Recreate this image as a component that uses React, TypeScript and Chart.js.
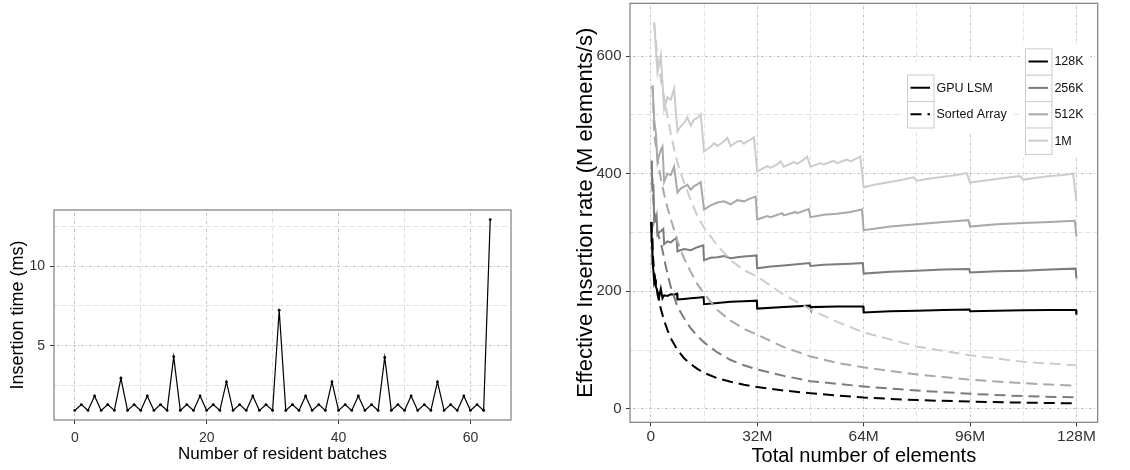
import React, { useEffect, useRef } from 'react';
import { Chart, registerables } from 'chart.js';

Chart.register(...registerables);

const FONT_FAMILY = '"Liberation Sans", Arial, Helvetica, sans-serif';
const MAJOR_GRID = '#bdbdbd';
const MINOR_GRID = '#e2e2e2';
const TICK_TEXT = '#333333';

// ---------------- Left panel: insertion time per batch ----------------
const insertionTimeMs = [
  0.94, 1.31, 0.94, 1.85, 0.94, 1.31, 0.94, 2.96,
  0.94, 1.31, 0.94, 1.85, 0.94, 1.31, 0.94, 4.31,
  0.94, 1.31, 0.94, 1.85, 0.94, 1.31, 0.94, 2.73,
  0.94, 1.31, 0.94, 1.85, 0.94, 1.31, 0.94, 7.23,
  0.94, 1.31, 0.94, 1.85, 0.94, 1.31, 0.94, 2.73,
  0.94, 1.31, 0.94, 1.85, 0.94, 1.31, 0.94, 4.27,
  0.94, 1.31, 0.94, 1.85, 0.94, 1.31, 0.94, 2.73,
  0.94, 1.31, 0.94, 1.85, 0.94, 1.31, 0.94, 12.92,
];
const batchXMajorTicks = [0, 20, 40, 60];
const batchXMinorTicks = [10, 30, 50];
const timeYMajorTicks = [5, 10];
const timeYMinorTicks = [2.5, 7.5, 12.5];

// ---------------- Right panel: [total elements (M), rate (M elements/s)] ----------------
const lsm128K: [number, number][] = [
  [0.125, 318], [0.25, 282], [0.375, 290], [0.5, 248], [0.75, 236], [1, 215], [1.25, 220], [1.5, 208],
  [2, 200], [2.5, 190], [3, 204], [3.5, 188], [4, 193], [5, 192], [6, 195], [7, 194], [7.875, 196],
  [8, 186], [10, 187], [12, 188], [14, 189], [15.875, 190], [16, 178], [20, 180], [24, 182], [28, 183],
  [31.875, 184], [32, 170.5], [40, 173], [47.875, 175.5], [48, 173], [56, 174], [63.875, 174],
  [64, 164], [72, 166], [80, 167], [88, 168], [95.875, 169], [96, 166], [104, 167], [112, 167.5],
  [120, 168], [127.875, 168], [128, 160],
];
const lsm256K: [number, number][] = [
  [0.25, 422], [0.5, 370], [0.75, 382], [1, 320], [1.25, 326], [1.5, 318], [1.75, 326], [2, 296],
  [2.5, 300], [3, 302], [3.75, 306], [4, 280], [5, 285], [6, 283], [7, 288], [7.75, 290], [8, 268],
  [10, 272], [12, 270], [14, 275], [15.75, 278], [16, 253], [18, 257], [20, 258], [22, 260], [24, 256],
  [26, 258], [28, 259], [30, 260], [31.75, 261], [32, 239], [36, 242], [40, 244], [44, 246],
  [47.75, 248], [48, 243], [52, 245], [56, 246], [60, 247], [63.75, 248], [64, 230], [72, 233],
  [80, 235], [88, 237], [95.75, 238], [96, 232], [104, 234], [112, 235], [120, 237], [127.75, 238.5],
  [128, 222],
];
const lsm512K: [number, number][] = [
  [0.5, 550], [1, 492], [1.5, 470], [2, 420], [2.5, 432], [3, 440], [3.5, 446], [4, 386], [5, 400],
  [6, 398], [7, 412], [8, 368], [9, 375], [10, 378], [11, 381], [12, 373], [13, 379], [14, 382],
  [15, 386], [16, 339], [18, 346], [20, 351], [22, 353], [24, 348], [26, 355], [28, 353], [30, 358],
  [31.5, 361], [32, 322], [35, 328], [36, 326], [39.5, 333], [40, 329], [43.5, 335], [44, 333],
  [47.5, 340], [48, 326], [52, 330], [56, 332], [60, 335], [63.5, 339], [64, 304], [72, 310],
  [80, 314], [88, 318], [95.5, 321], [96, 310], [104, 314], [112, 316], [120, 318], [127.5, 320],
  [128, 293],
];
const lsm1M: [number, number][] = [
  [1, 658], [2, 572], [3, 601], [4, 510], [5, 530], [6, 526], [7, 545], [8, 472], [9, 481], [10, 486],
  [11, 496], [12, 482], [13, 492], [14, 495], [15, 501], [16, 438], [17, 442], [18, 446], [19, 452],
  [20, 447], [21, 451], [22, 455], [23, 461], [24, 447], [25, 451], [26, 455], [27, 456], [28, 451],
  [29, 455], [30, 458], [31, 462], [32, 404], [34, 410], [35, 413], [36, 410], [38, 416], [39, 421],
  [40, 412], [42, 417], [43, 420], [44, 417], [46, 424], [47, 429], [48, 412], [50, 416], [51, 418],
  [52, 416], [54, 420], [55, 422], [56, 418], [58, 422], [59, 424], [60, 421], [62, 426], [63, 429],
  [64, 377], [68, 382], [72, 386], [76, 390], [79, 394], [80, 388], [84, 392], [88, 395], [92, 398],
  [95, 401], [96, 385], [100, 388], [104, 391], [108, 394], [111, 396], [112, 390], [116, 393],
  [120, 396], [124, 398], [127, 400], [128, 353],
];
const sorted128K: [number, number][] = [
  [0.125, 318], [0.5, 270], [1, 232], [2, 195], [3, 170], [4, 150], [5, 134], [6, 120], [8, 100],
  [10, 86], [12, 76], [14, 68], [16, 61], [20, 52], [24, 46], [28, 41], [32, 37], [40, 31], [48, 26.5],
  [64, 19], [80, 14.8], [96, 12.2], [112, 10.4], [128, 9.2],
];
const sorted256K: [number, number][] = [
  [0.25, 422], [0.5, 380], [1, 335], [2, 300], [3, 282], [3.5, 270], [4, 255], [5, 230], [6, 207],
  [8, 174], [10, 154], [12, 137], [14, 124], [16, 113], [20, 96], [24, 83], [28, 74], [32, 67],
  [40, 56], [48, 47], [64, 38], [80, 31], [96, 25.5], [112, 21.5], [128, 19.5],
];
const sorted512K: [number, number][] = [
  [0.5, 550], [1, 470], [2, 425], [3, 392], [4, 365], [5, 342], [6, 323], [8, 285], [10, 256],
  [12, 233], [14, 212], [16, 196], [20, 168], [24, 150], [28, 136], [32, 126], [40, 105], [48, 89],
  [56, 78], [64, 70.5], [80, 58.5], [96, 49.5], [112, 43.5], [128, 39],
];
const sorted1M: [number, number][] = [
  [1, 656], [2, 595], [3, 560], [4, 528], [5, 498], [6, 468], [7, 442], [8, 418], [10, 385],
  [12, 355], [14, 328], [16, 308], [20, 278], [24, 253], [28, 236], [32, 225], [40, 194], [48, 169],
  [56, 148], [64, 130], [80, 106], [96, 91], [112, 80], [128, 74],
];
const sizeXMajorTicks = [0, 32, 64, 96, 128];
const sizeXMinorTicks = [16, 48, 80, 112];
const rateYMajorTicks = [0, 200, 400, 600];
const rateYMinorTicks = [100, 300, 500];
const batchSizeLabels = ['128K', '256K', '512K', '1M'];
const batchSizeColors = ['#000000', '#7c7c7c', '#a9a9a9', '#cccccc'];
const methodLabels = ['GPU LSM', 'Sorted Array'];
const lsmSeries = [lsm128K, lsm256K, lsm512K, lsm1M];
const sortedSeries = [sorted128K, sorted256K, sorted512K, sorted1M];

const SORTED_DASH = [11, 6];

type AxisParams = {
  min: number;
  max: number;
  major: number[];
  minor: number[];
  format: (v: number) => string;
  size: number;
  vertical: boolean;
  tickFont: number;
  tickPad: number;
  title: string;
  titleFont: number;
  titlePad: number;
};

function axisConfig(p: AxisParams): any {
  const majorSet = new Set(p.major);
  const isMajor = (ctx: any) => !!ctx && !!ctx.tick && majorSet.has(ctx.tick.value);
  return {
    type: 'linear',
    position: p.vertical ? 'left' : 'bottom',
    min: p.min,
    max: p.max,
    afterBuildTicks: (scale: any) => {
      scale.ticks = [...p.major, ...p.minor].sort((a, b) => a - b).map((v) => ({ value: v }));
    },
    afterFit: (scale: any) => {
      if (p.vertical) scale.width = p.size;
      else scale.height = p.size;
      scale.paddingTop = 0;
      scale.paddingBottom = 0;
      scale.paddingLeft = 0;
      scale.paddingRight = 0;
    },
    ticks: {
      autoSkip: false,
      maxRotation: 0,
      minRotation: 0,
      includeBounds: false,
      padding: p.tickPad,
      color: TICK_TEXT,
      font: { family: FONT_FAMILY, size: p.tickFont },
      callback: (value: number) => (majorSet.has(value) ? p.format(value) : ''),
    },
    grid: {
      drawOnChartArea: true,
      drawTicks: true,
      tickLength: 4,
      color: (ctx: any) => (isMajor(ctx) ? MAJOR_GRID : MINOR_GRID),
      lineWidth: (ctx: any) => (isMajor(ctx) ? 0.9 : 1),
      tickColor: (ctx: any) => (isMajor(ctx) ? '#333333' : 'rgba(0,0,0,0)'),
      tickWidth: 1,
      tickBorderDash: [],
    },
    border: {
      display: false,
      dash: (ctx: any) => (isMajor(ctx) ? [1, 2, 3, 2] : [5, 3]),
    },
    title: {
      display: true,
      text: p.title,
      color: '#000000',
      font: { family: FONT_FAMILY, size: p.titleFont },
      padding: p.vertical ? { top: p.titlePad, bottom: 0 } : { top: 0, bottom: p.titlePad },
    },
  };
}

const panelBorderPlugin = {
  id: 'panelBorder',
  afterDraw(chart: any) {
    const { ctx, chartArea } = chart;
    ctx.save();
    ctx.strokeStyle = '#7f7f7f';
    ctx.lineWidth = 1.2;
    ctx.setLineDash([]);
    ctx.strokeRect(chartArea.left, chartArea.top, chartArea.right - chartArea.left, chartArea.bottom - chartArea.top);
    ctx.restore();
  },
};

type LegendEntry = { label: string; color: string; dash: number[] };

function drawLegend(
  ctx: CanvasRenderingContext2D,
  left: number,
  top: number,
  key: number,
  bg: { x0: number; y0: number; x1: number; y1: number },
  entries: LegendEntry[],
) {
  ctx.save();
  ctx.fillStyle = '#ffffff';
  ctx.fillRect(bg.x0, bg.y0, bg.x1 - bg.x0, bg.y1 - bg.y0);
  ctx.font = `12.5px ${FONT_FAMILY}`;
  ctx.textBaseline = 'middle';
  ctx.textAlign = 'left';
  entries.forEach((e, i) => {
    const y = top + i * key;
    ctx.fillStyle = '#ffffff';
    ctx.fillRect(left, y, key, key);
    ctx.strokeStyle = '#cccccc';
    ctx.lineWidth = 1;
    ctx.setLineDash([]);
    ctx.strokeRect(left + 0.5, y + 0.5, key, key);
    ctx.beginPath();
    ctx.strokeStyle = e.color;
    ctx.lineWidth = 2;
    ctx.lineCap = 'butt';
    ctx.setLineDash(e.dash);
    ctx.moveTo(left + 3.5, y + key / 2);
    ctx.lineTo(left + key - 3.5, y + key / 2);
    ctx.stroke();
    ctx.setLineDash([]);
    ctx.fillStyle = '#111111';
    ctx.fillText(e.label, left + key + 3, y + key / 2 + 0.5);
  });
  ctx.restore();
}

const rightLegendPlugin = {
  id: 'rightLegends',
  afterDatasetsDraw(chart: any) {
    const ctx = chart.ctx as CanvasRenderingContext2D;
    drawLegend(ctx, 347, 74.5, 26.5, { x0: 343, y0: 62, x1: 452, y1: 132 }, [
      { label: methodLabels[0], color: '#000000', dash: [] },
      { label: methodLabels[1], color: '#000000', dash: SORTED_DASH },
    ]);
    drawLegend(
      ctx,
      465,
      48.3,
      26.4,
      { x0: 461, y0: 44, x1: 530, y1: 158 },
      batchSizeLabels.map((l, i) => ({ label: l, color: batchSizeColors[i], dash: [] })),
    );
  },
};

function LeftChart() {
  const ref = useRef<HTMLCanvasElement | null>(null);
  useEffect(() => {
    const chart = new Chart(ref.current as HTMLCanvasElement, {
      type: 'line',
      data: {
        datasets: [
          {
            label: 'Insertion time',
            data: insertionTimeMs.map((v, i) => ({ x: i, y: v })),
            borderColor: '#000000',
            borderWidth: 1.2,
            pointRadius: 1.4,
            pointBackgroundColor: '#000000',
            pointBorderWidth: 0,
            tension: 0,
            fill: false,
          },
        ],
      },
      options: {
        animation: false,
        responsive: false,
        devicePixelRatio: 1,
        events: [],
        layout: { padding: { left: 0, top: 15, right: 14, bottom: 0 } },
        plugins: { legend: { display: false }, tooltip: { enabled: false } },
        scales: {
          x: axisConfig({
            min: -3.15, max: 66.15, major: batchXMajorTicks, minor: batchXMinorTicks,
            format: (v) => String(v), size: 50, vertical: false, tickFont: 14, tickPad: 6,
            title: 'Number of resident batches', titleFont: 17, titlePad: 5.8,
          }),
          y: axisConfig({
            min: 0.34, max: 13.52, major: timeYMajorTicks, minor: timeYMinorTicks,
            format: (v) => String(v), size: 54, vertical: true, tickFont: 14, tickPad: 5,
            title: 'Insertion time (ms)', titleFont: 18, titlePad: 7,
          }),
        },
      } as any,
      plugins: [panelBorderPlugin],
    });
    return () => chart.destroy();
  }, []);
  return (
    <canvas
      ref={ref}
      width={525}
      height={275}
      style={{ position: 'absolute', left: 0, top: 195, width: 525, height: 275 }}
    />
  );
}

function RightChart() {
  const ref = useRef<HTMLCanvasElement | null>(null);
  useEffect(() => {
    const datasets: any[] = [];
    lsmSeries.forEach((s, i) => {
      datasets.push({
        label: `${methodLabels[0]} ${batchSizeLabels[i]}`,
        data: s.map(([x, y]) => ({ x, y })),
        borderColor: batchSizeColors[i],
        borderWidth: 2,
        pointRadius: 0,
        tension: 0,
        fill: false,
        order: 10 - i * 2,
      });
      datasets.push({
        label: `${methodLabels[1]} ${batchSizeLabels[i]}`,
        data: sortedSeries[i].map(([x, y]) => ({ x, y })),
        borderColor: batchSizeColors[i],
        borderWidth: 2,
        borderDash: SORTED_DASH,
        borderCapStyle: 'butt',
        pointRadius: 0,
        tension: 0,
        fill: false,
        order: 11 - i * 2,
      });
    });
    const chart = new Chart(ref.current as HTMLCanvasElement, {
      type: 'line',
      data: { datasets },
      options: {
        animation: false,
        responsive: false,
        devicePixelRatio: 1,
        events: [],
        layout: { padding: { left: 0, top: 3.3, right: 32.3, bottom: 0 } },
        plugins: { legend: { display: false }, tooltip: { enabled: false } },
        scales: {
          x: axisConfig({
            min: -6.27, max: 134.4, major: sizeXMajorTicks, minor: sizeXMinorTicks,
            format: (v) => (v === 0 ? '0' : `${v}M`), size: 47.7, vertical: false, tickFont: 15.5,
            tickPad: 1.4, title: 'Total number of elements', titleFont: 20, titlePad: 1.3,
          }),
          y: axisConfig({
            min: -23, max: 690, major: rateYMajorTicks, minor: rateYMinorTicks,
            format: (v) => String(v), size: 70, vertical: true, tickFont: 15, tickPad: 4.5,
            title: 'Effective Insertion rate (M elements/s)', titleFont: 22, titlePad: 12.5,
          }),
        },
      } as any,
      plugins: [rightLegendPlugin, panelBorderPlugin],
    });
    return () => chart.destroy();
  }, []);
  return (
    <canvas
      ref={ref}
      width={570}
      height={470}
      style={{ position: 'absolute', left: 560, top: 0, width: 570, height: 470 }}
    />
  );
}

export default function App() {
  return (
    <div
      style={{
        position: 'absolute',
        left: 0,
        top: 0,
        width: 1130,
        height: 470,
        background: '#ffffff',
        overflow: 'hidden',
      }}
    >
      <LeftChart />
      <RightChart />
    </div>
  );
}
